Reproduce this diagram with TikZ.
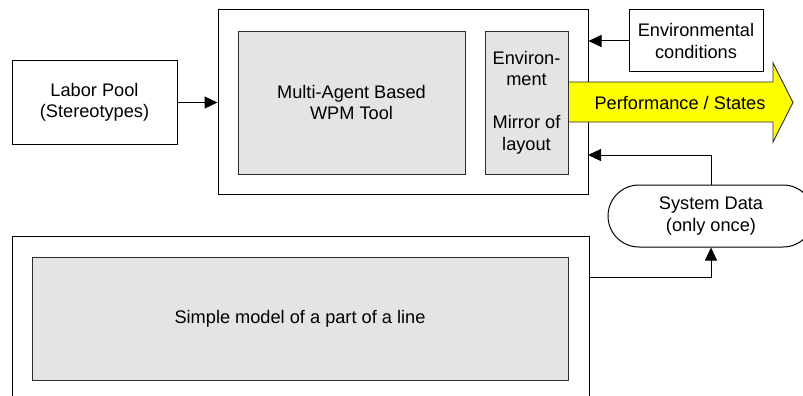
\documentclass[tikz,border=0pt]{standalone}
\usepackage{fontspec}
\setmainfont{Liberation Sans}
\usetikzlibrary{arrows.meta,shapes.misc}
\definecolor{panel}{RGB}{228,228,228}
\definecolor{edge}{RGB}{45,45,45}
\definecolor{flow}{RGB}{255,255,0}

\begin{document}
\begin{tikzpicture}[x=1pt,y=-1pt,
  every node/.style={font=\fontsize{18.2}{21.5}\selectfont, align=center, inner sep=0pt, text=black},
  frame/.style={draw=black, line width=1pt, fill=white},
  panelbox/.style={draw=edge, line width=0.9pt, fill=panel},
  arr/.style={draw=black, line width=1pt, -{Triangle[length=13pt,width=12pt]}}]
\clip (0,0) rectangle (803,396);
\fill[white] (0,0) rectangle (803,396);

% input: labour pool
\node[frame, minimum width=165, minimum height=83] (labor) at (94.5,102.5) {Labor Pool\\(Stereotypes)};

% the WPM tool with its environment mirror
\node[frame, minimum width=370, minimum height=184] (wpm) at (403,102) {};
\node[panelbox, minimum width=227, minimum height=143] (mas) at (351.5,102.5) {Multi-Agent Based\\WPM Tool};

% output arrow
\draw[draw=edge, line width=0.9pt, fill=flow]
  (568,82) -- (773,82) -- (773,63) -- (793,102.5) -- (773,142) -- (773,122) -- (568,122) -- cycle;
\node (perf) at (680,102.5) {Performance / States};

\node[panelbox, minimum width=83, minimum height=143] (env) at (526.5,102.5) {Environ-\\ment\\ \\Mirror of\\layout};

% environmental conditions
\node[frame, minimum width=134, minimum height=62] (cond) at (696,41) {Environmental\\conditions};

% system data store
\node[frame, rounded rectangle, minimum width=206, minimum height=62] (sys) at (711,216) {System Data\\(only once)};

% simple line model
\node[frame, minimum width=577, minimum height=190] (line) at (300.5,331) {};
\node[panelbox, minimum width=536, minimum height=123] (model) at (300,318.5) {Simple model of a part of a line};

% connectors
\coordinate (fb) at (588,155);
\coordinate (lineout) at (589,277);
\draw[arr] (labor.east) -- (wpm.west |- labor.east);
\draw[arr] (cond.west) -- (wpm.east |- cond.west);
\draw[arr] (sys.north) |- (fb);
\draw[arr] (lineout) -| (sys.south);
\end{tikzpicture}
\end{document}
